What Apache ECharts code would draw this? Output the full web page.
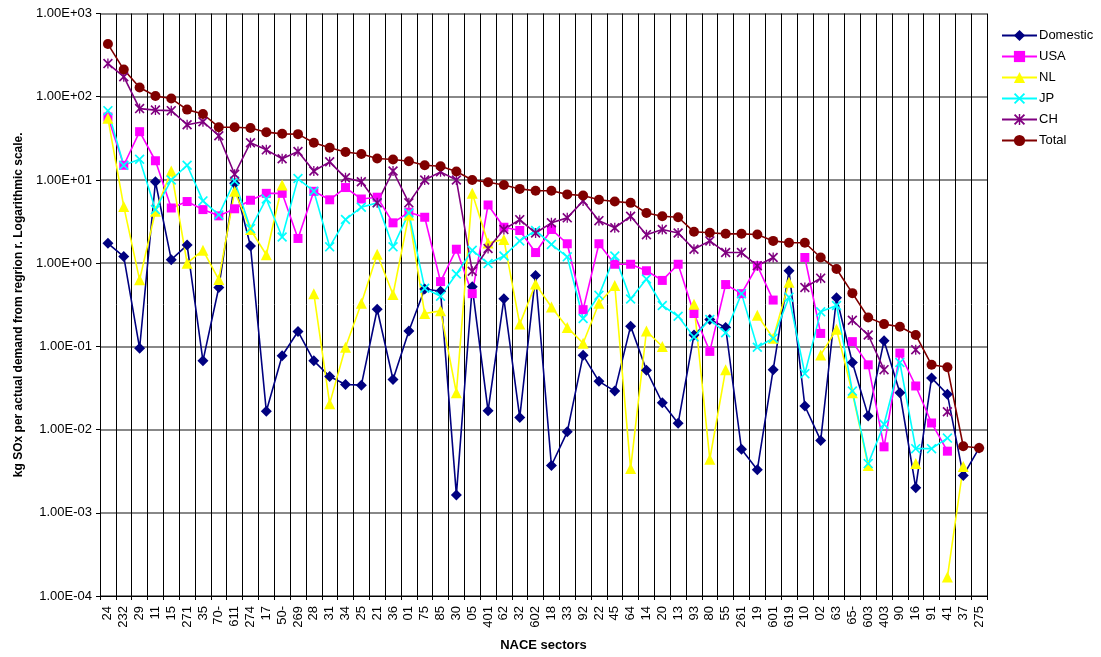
<!DOCTYPE html>
<html>
<head>
<meta charset="utf-8">
<script src="https://cdn.jsdelivr.net/npm/echarts@6/dist/echarts.min.js"></script>
<style>
html,body{margin:0;padding:0;background:#fff;}
#chart{width:1101px;height:657px;}
</style>
</head>
<body>
<div id="chart"></div>
<script>
const categories = ['24','232','29','11','15','271','35','70-','611','274','17','50-','269','28','31','34','25','21','36','01','75','85','30','05','401','62','32','602','18','33','92','22','45','64','14','20','13','93','80','55','261','19','601','619','10','02','63','65-','603','403','90','16','91','41','37','275'];

const domestic = [1.73,1.2,0.095,9.5,1.1,1.65,0.067,0.51,9.1,1.61,0.0166,0.077,0.151,0.067,0.0434,0.0348,0.0342,0.279,0.04,0.153,0.49,0.46,0.00164,0.52,0.0168,0.373,0.014,0.708,0.0037,0.0094,0.078,0.038,0.029,0.175,0.0515,0.021,0.0119,0.137,0.21,0.169,0.0058,0.0033,0.0525,0.81,0.0192,0.0074,0.384,0.064,0.0146,0.117,0.0277,0.002,0.0418,0.0265,0.0028,0.006];

const usa = [57,15,38,17,4.6,5.5,4.4,3.7,4.5,5.7,6.9,6.9,1.98,7.3,5.77,8.1,5.9,6.2,3.05,4.1,3.56,0.6,1.47,0.43,5.0,2.7,2.47,1.34,2.54,1.71,0.276,1.71,0.97,0.97,0.81,0.62,0.97,0.248,0.087,0.553,0.43,0.93,0.36,null,1.17,0.143,null,0.114,0.06,0.0062,0.083,0.0334,0.012,0.0055,null,null];

const nl = [55,4.8,0.63,4.2,12.8,1.0,1.43,0.635,7.3,2.54,1.26,8.7,null,0.43,0.0205,0.0975,0.33,1.28,0.42,3.8,0.248,0.267,0.0277,6.9,1.75,1.93,0.185,0.56,0.297,0.169,0.109,0.33,0.54,0.0034,0.153,0.0995,null,0.32,0.0044,0.0525,null,0.237,0.125,0.59,null,0.079,0.16,0.0277,0.0037,null,null,0.0039,null,0.000169,0.0036,null];

const jp = [68,15,17.7,4.4,10,15,5.6,3.8,9.7,2.6,5.9,2.06,10.4,7.3,1.57,3.34,4.7,5.3,1.57,4.0,0.5,0.4,0.74,1.43,0.99,1.22,1.85,2.47,1.68,1.19,0.216,0.41,1.22,0.37,0.645,0.31,0.23,0.13,0.21,0.146,0.43,0.0975,0.125,0.39,0.047,0.26,0.31,0.029,0.0039,0.0116,0.064,0.0059,0.0059,0.0079,null,null];

const ch = [250,174,72,69,68,46,50,34,11.7,28,23,18,22,12.8,16.5,10.6,9.5,5.3,12.8,5.3,10,12.5,10,0.8,1.5,2.54,3.33,2.3,3.05,3.5,5.6,3.24,2.66,3.66,2.2,2.54,2.3,1.47,1.85,1.34,1.34,0.93,1.17,null,0.51,0.66,null,0.206,0.137,0.0525,null,0.091,null,0.0164,null,null];

const total = [429,212,129,102,95,70,62,43,43,42,37.5,35.8,35.5,28,24.4,21.7,20.5,18.1,17.6,16.8,15,14.6,12.6,10,9.4,8.7,7.8,7.4,7.4,6.7,6.5,5.77,5.5,5.3,4.0,3.66,3.56,2.38,2.32,2.25,2.25,2.21,1.85,1.76,1.76,1.17,0.85,0.436,0.222,0.185,0.172,0.137,0.06,0.056,0.0063,0.006];

const FONT = 'Arial, "Liberation Sans", sans-serif';
const X_PATH = 'path://M0,1.2L1.2,0L5,3.8L8.8,0L10,1.2L6.2,5L10,8.8L8.8,10L5,6.2L1.2,10L0,8.8L3.8,5Z';
const STAR_PATH = 'path://M0,1.2L1.2,0L5,3.8L8.8,0L10,1.2L6.2,5L10,8.8L8.8,10L5,6.2L1.2,10L0,8.8L3.8,5Z M4.35,0L5.65,0L5.65,10L4.35,10Z';

function mk(name, data, color, symbol, size) {
  return {
    name: name, type: 'line', data: data, connectNulls: false,
    symbol: symbol, symbolSize: size, showSymbol: true,
    lineStyle: {color: color, width: 1.6},
    itemStyle: {color: color, borderWidth: 0},
    emphasis: {disabled: true},
    animation: false
  };
}

const chart = echarts.init(document.getElementById('chart'), null, {renderer: 'canvas'});
chart.setOption({
  backgroundColor: '#fff',
  animation: false,
  textStyle: {fontFamily: FONT},
  grid: {left: 100, right: 114, top: 13.5, bottom: 55, containLabel: false},
  legend: {
    orient: 'vertical', left: 996, top: 24,
    itemWidth: 35, itemHeight: 14, itemGap: 8,
    textStyle: {fontFamily: FONT, fontSize: 13, color: '#000', padding: [0,0,0,-3]},
    data: ['Domestic','USA','NL','JP','CH','Total']
  },
  xAxis: {
    type: 'category', data: categories, boundaryGap: true,
    name: 'NACE sectors', nameLocation: 'middle', nameGap: 43,
    nameTextStyle: {fontFamily: FONT, fontSize: 13, fontWeight: 'bold', color: '#000'},
    axisLine: {show: true, lineStyle: {color: '#000', width: 1}},
    axisTick: {show: true, length: 4, inside: false, alignWithLabel: false, interval: 0, lineStyle: {color: '#000'}},
    axisLabel: {rotate: 90, interval: 0, margin: 10, fontFamily: FONT, fontSize: 13, color: '#000'},
    splitLine: {show: true, interval: 0, lineStyle: {color: '#000', width: 1}}
  },
  yAxis: {
    type: 'log', logBase: 10, min: 1e-4, max: 1e3, splitNumber: 7,
    name: 'kg SOx per actual demand from regrion r. Logarithmic scale.',
    nameLocation: 'middle', nameGap: 74, nameRotate: 90,
    nameTextStyle: {fontFamily: FONT, fontSize: 12, fontWeight: 'bold', color: '#000'},
    axisLine: {show: true, lineStyle: {color: '#000', width: 1}},
    axisTick: {show: true, length: 4, lineStyle: {color: '#000'}},
    axisLabel: {
      margin: 8, fontFamily: FONT, fontSize: 13, color: '#000',
      formatter: function (v) {
        const e = Math.round(Math.log10(v));
        return '1.00E' + (e < 0 ? '-' : '+') + String(Math.abs(e)).padStart(2, '0');
      }
    },
    minorTick: {show: false},
    splitLine: {show: true, lineStyle: {color: '#606060', width: 1.6}}
  },
  series: [
    mk('Domestic', domestic, '#000080', 'diamond', 11),
    mk('USA', usa, '#FF00FF', 'rect', 9),
    mk('NL', nl, '#FFFF00', 'triangle', 11),
    mk('JP', jp, '#00FFFF', X_PATH, 10),
    mk('CH', ch, '#800080', STAR_PATH, 10),
    mk('Total', total, '#800000', 'circle', 10)
  ]
});
</script>
</body>
</html>
